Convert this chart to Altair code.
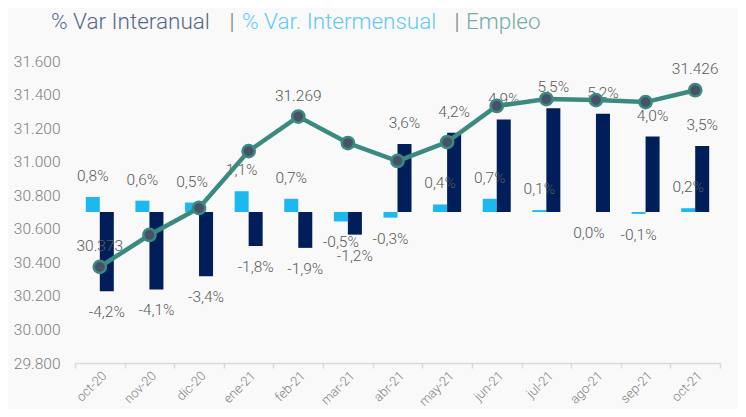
import altair as alt
import pandas as pd

months = ["oct-20", "nov-20", "dic-20", "ene-21", "feb-21", "mar-21", "abr-21",
          "may-21", "jun-21", "jul-21", "ago-21", "sep-21", "oct-21"]
empleo = [30373, 30563, 30724, 31063, 31269, 31111, 31004, 31117, 31332, 31373, 31367, 31355, 31426]
var_interanual = [-4.2, -4.1, -3.4, -1.8, -1.9, -1.2, 3.6, 4.2, 4.9, 5.5, 5.2, 4.0, 3.5]
var_intermensual = [0.8, 0.6, 0.5, 1.1, 0.7, -0.5, -0.3, 0.4, 0.7, 0.1, 0.0, -0.1, 0.2]
empleo_labeled = ["oct-20", "feb-21", "oct-21"]

series = ["% Var. Intermensual", "% Var Interanual"]
series_colors = ["#1db8ee", "#001e5a"]

line_df = pd.DataFrame({"month": months, "empleo": empleo,
                        "show": [m in empleo_labeled for m in months]})
bars_df = pd.DataFrame({
    "month": months * 2,
    "serie": [series[0]] * len(months) + [series[1]] * len(months),
    "valor": var_intermensual + var_interanual,
})

FONT = "'Roboto Light', Roboto"
LBL = "#595959"
AX = "#808080"

x_enc = alt.X("month:N", sort=months,
              scale=alt.Scale(paddingInner=0, paddingOuter=0),
              axis=alt.Axis(title=None, labelAngle=-45, tickBand="extent",
                            domainColor="#d9d9d9", tickColor="#d9d9d9",
                            domainWidth=1.5, tickWidth=1.5, tickSize=5,
                            labelColor=AX, labelFontSize=13, labelFont=FONT,
                            labelFontWeight=300, labelPadding=1, grid=False))

y_left = alt.Y("empleo:Q",
               scale=alt.Scale(domain=[29800, 31600], nice=False, zero=False),
               axis=alt.Axis(title=None, orient="left",
                             values=list(range(29800, 31601, 200)),
                             labelExpr="replace(format(datum.value, ',.0f'), ',', '.')",
                             domain=False, ticks=False, grid=False, labelPadding=15,
                             labelColor=AX, labelFontSize=15.5, labelFont=FONT,
                             labelFontWeight=300))

y_right = alt.Y("valor:Q",
                scale=alt.Scale(domain=[-8, 8], nice=False),
                axis=None)

xoff = alt.XOffset("serie:N", sort=series,
                   scale=alt.Scale(domain=series, paddingOuter=0.771, paddingInner=0))
color = alt.Color("serie:N", scale=alt.Scale(domain=series, range=series_colors), legend=None)

base_line = alt.Chart(line_df).encode(x=x_enc, y=y_left)
line = base_line.mark_line(color="#3a8a80", strokeWidth=4.5)
pts = base_line.mark_circle(size=150, opacity=1, fill="#475269", stroke="#3a8a80", strokeWidth=2.5)
emp_lab = base_line.transform_filter("datum.show").transform_calculate(
    lab="replace(format(datum.empleo, ',.0f'), ',', '.')"
).mark_text(dy=-21, font=FONT, fontWeight=300, fontSize=15.5, color=LBL).encode(text="lab:N")

title_layer = []
title_parts = [("% Var Interanual", -24, "left", "#55688f"),
               ("|", 157, "center", "#777777"),
               ("% Var. Intermensual", 167, "left", "#5fcaf5"),
               ("|", 382, "center", "#777777"),
               ("Empleo", 391, "left", "#74aba4")]
tdf = pd.DataFrame({"k": [0]})
for txt, px, al, col in title_parts:
    title_layer.append(
        alt.Chart(tdf).mark_text(align=al, baseline="middle", font=FONT,
                                 fontSize=22.5, fontWeight=300, color=col)
        .encode(x=alt.value(px), y=alt.value(-39), text=alt.value(txt))
    )

left = alt.layer(line, pts, emp_lab, *title_layer)

base_bar = alt.Chart(bars_df).encode(x=x_enc, xOffset=xoff, y=y_right)
bars = base_bar.mark_bar(stroke=None).encode(color=color)
lab_calc = "replace(replace(format(datum.valor, '.1f'), '.', ','), '\u2212', '-') + '%'"
bar_lab_pos = base_bar.transform_filter("datum.valor > 0").transform_calculate(
    lab=lab_calc).mark_text(dy=-21, font=FONT, fontWeight=300, fontSize=15.5,
                            color=LBL).encode(text="lab:N")
bar_lab_neg = base_bar.transform_filter("datum.valor <= 0").transform_calculate(
    lab=lab_calc).mark_text(dy=21, font=FONT, fontWeight=300, fontSize=15.5,
                            color=LBL).encode(text="lab:N")

right = alt.layer(bars, bar_lab_pos, bar_lab_neg)

chart = alt.layer(right, left).resolve_scale(y="independent").properties(
    width=645, height=302, autosize="none",
    padding={"left": 67, "top": 53, "right": 18, "bottom": 46},
    background="#f9f9f9",
).configure_view(stroke=None)

chart.save("out.html", embed_options={"renderer": "svg", "actions": False})
